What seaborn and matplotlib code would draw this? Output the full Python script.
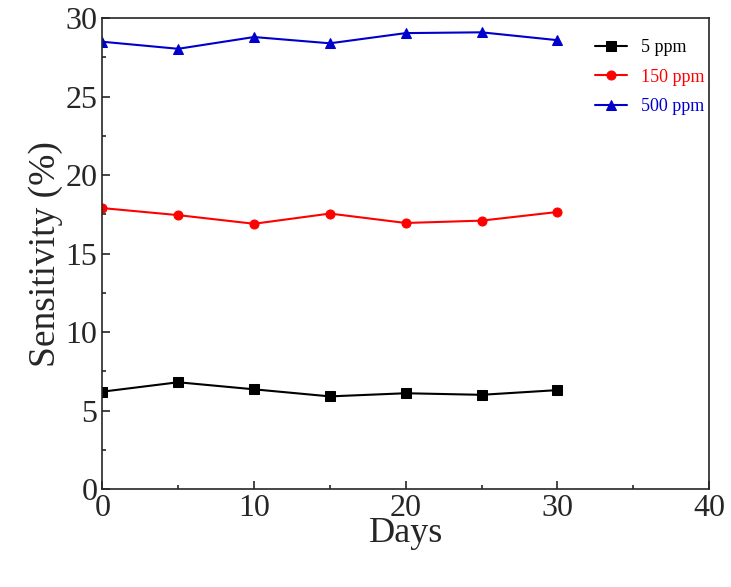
import matplotlib
matplotlib.use("Agg")
import matplotlib.pyplot as plt
import seaborn as sns
import pandas as pd
from matplotlib.ticker import MultipleLocator

days = [0, 5, 10, 15, 20, 25, 30]
s5 = [6.2, 6.8, 6.35, 5.9, 6.1, 6.0, 6.3]
s150 = [17.9, 17.45, 16.9, 17.55, 16.95, 17.1, 17.65]
s500 = [28.5, 28.05, 28.8, 28.4, 29.05, 29.1, 28.6]
labels = ["5 ppm", "150 ppm", "500 ppm"]
colors = ["black", "red", "#0000cc"]
markers = ["s", "o", "^"]

sns.set_style("ticks")
plt.rcParams['font.family'] = ['Liberation Serif', 'DejaVu Serif']

df = pd.DataFrame({"Days": days * 3, "Sensitivity": s5 + s150 + s500,
                   "Series": sum([[l] * len(days) for l in labels], [])})

fig = plt.figure(figsize=(7.31, 5.87), dpi=100)
ax = fig.add_axes([0.14, 0.167, 0.83, 0.802])
for lab, c, m in zip(labels, colors, markers):
    sub = df[df.Series == lab]
    sns.lineplot(data=sub, x="Days", y="Sensitivity", color=c, marker=m,
                 markersize=6.5, markeredgecolor=c, linewidth=1.5, label=lab, ax=ax)
ax.set_xlim(0, 40)
ax.set_ylim(0, 30)
ax.xaxis.set_major_locator(MultipleLocator(10))
ax.xaxis.set_minor_locator(MultipleLocator(5))
ax.yaxis.set_major_locator(MultipleLocator(5))
ax.yaxis.set_minor_locator(MultipleLocator(2.5))
ax.tick_params(which='both', direction='in', labelsize=23, width=1.2)
ax.tick_params(which='major', length=6)
ax.tick_params(which='minor', length=3)
for sp in ax.spines.values():
    sp.set_linewidth(1.2)
ax.set_xlabel("Days", fontsize=26, labelpad=-4)
ax.set_ylabel("Sensitivity (%)", fontsize=27, labelpad=2)
leg = ax.legend(loc="upper right", frameon=False, fontsize=13,
                bbox_to_anchor=(1.02, 0.99), handlelength=1.8, labelspacing=0.7)
for t, c in zip(leg.get_texts(), colors):
    t.set_color(c)
fig.savefig("out.png", dpi=100)
